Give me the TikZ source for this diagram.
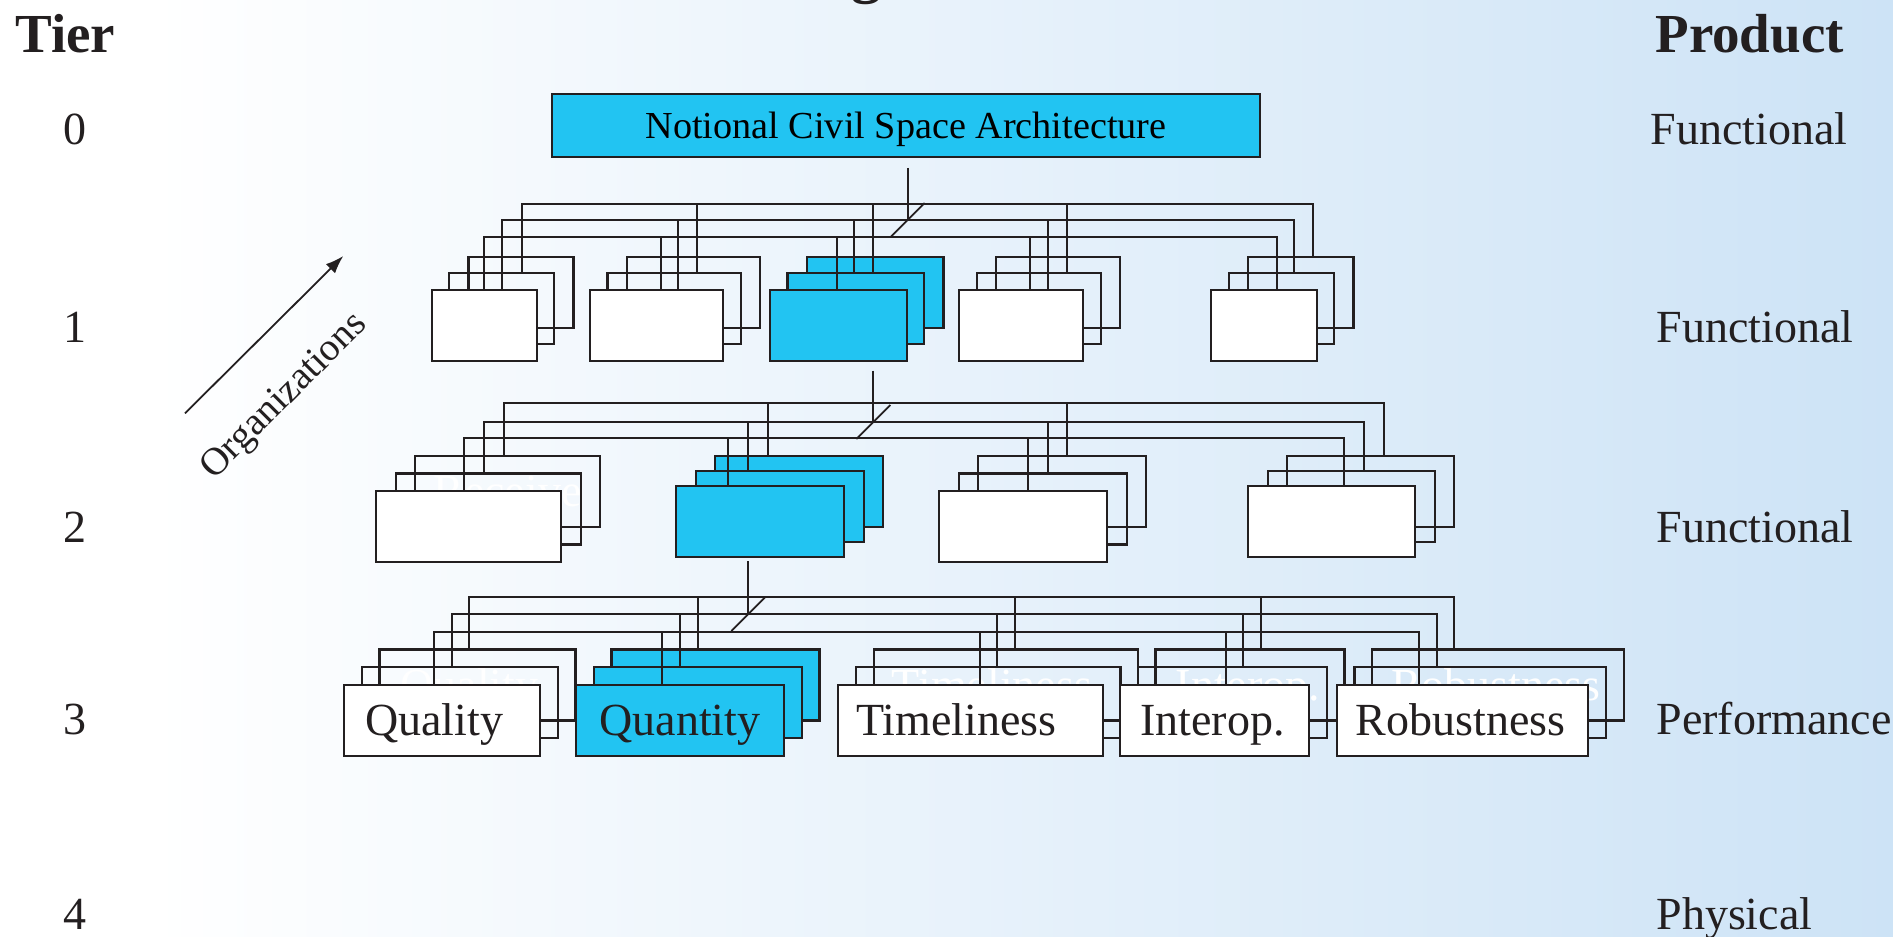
\documentclass[tikz,border=0pt]{standalone}
\usepackage{fontspec}
\setmainfont{Liberation Serif}
\usetikzlibrary{arrows.meta}

\definecolor{skyblue}{RGB}{34,196,242}
\definecolor{ink}{RGB}{35,31,32}
\definecolor{paleblue}{RGB}{205,227,246}

\begin{document}
\begin{tikzpicture}[x=0.5pt,y=-0.5pt]
\tikzset{layer/.style = {shape=rectangle,draw=ink,line width=1.15pt,inner sep=0pt,outer sep=0pt,anchor=north west,minimum height=35.5pt,text height=15.2pt,text depth=0pt,font=\fontsize{23}{27}\selectfont}}
\tikzset{wire/.style = {draw=ink,line width=0.9pt}}
\tikzset{label/.style = {text=ink,inner sep=0pt,font=\fontsize{23}{27}\selectfont,anchor=base}}
\tikzset{head/.style = {text=ink,inner sep=0pt,font=\fontsize{27.5}{32}\selectfont\bfseries,anchor=base west}}
\tikzset{edge/.style = {draw=ink,line width=0.9pt,-{Latex[length=9pt,width=6.5pt]}}}
% background
\fill[white] (0,0) rectangle (1893,936);
\shade[left color=white,right color=paleblue] (150,0) rectangle (1893,936);
\useasboundingbox (0,0) rectangle (1893,936);
% headings
\node[text=ink,inner sep=0pt,anchor=south,font=\fontsize{30}{34}\selectfont\bfseries] (title) at (866,5) {g};
\node[head] (tier) at (15,53) {Tier};
\node[head] (product) at (1655,53) {Product};
\foreach \t/\y in {0/145,1/342,2/542,3/734,4/929}
  \node[label] (n\t) at (75,\y) {\t};
\node[label,anchor=base west] (p0) at (1650,145) {Functional};
\node[label,anchor=base west] (p1) at (1656,342) {Functional};
\node[label,anchor=base west] (p2) at (1656,542) {Functional};
\node[label,anchor=base west] (p3) at (1656,734) {Performance};
\node[label,anchor=base west] (p4) at (1656,929) {Physical};
% tier 0
\node[layer,fill=skyblue,minimum width=354pt,minimum height=31.5pt,text height=12.6pt,font=\fontsize{19.1}{22}\selectfont] (arch) at (552,94) {Notional Civil Space Architecture};
% tier 1 stacks
\foreach \n/\x/\w/\bk/\fr in {a/431.7/105/none/white,b/590/133.3/none/white,c/770/136.7/skyblue/skyblue,d/959.3/124/none/white,e/1211.3/105.4/none/white}{
  \node[layer,fill=\bk,minimum width=\w*0.5pt] (\n1b) at (\x+36.7,257) {};
  \node[layer,fill=\bk,minimum width=\w*0.5pt] (\n1m) at (\x+17.5,273) {};
  \node[layer,fill=\fr,minimum width=\w*0.5pt] (\n1f) at (\x,290) {};
}
% tier 2 stacks
\foreach \n/\x/\y/\d/\w/\bk/\fr/\gh in {a/376/491/17.5/185/none/white/Receive,b/675.7/486/15/168/skyblue/skyblue/,c/939.3/491/17.5/168/none/white/,d/1247.7/486/15/167.3/none/white/}{
  \node[layer,fill=\bk,text=white,minimum width=\w*0.5pt] (\n2b) at (\x+39,\y-2*\d) {\gh};
  \node[layer,fill=\bk,minimum width=\w*0.5pt] (\n2m) at (\x+20,\y-\d) {};
  \node[layer,fill=\fr,minimum width=\w*0.5pt] (\n2f) at (\x,\y) {};
}
% tier 3 stacks
\foreach \n/\x/\w/\bk/\fr/\lab/\gh/\sh in {qual/344/196/none/white/Quality/Quality/8,quan/576/208/skyblue/skyblue/Quantity//0,time/838.3/264.4/none/white/Timeliness/Timeliness/14,inter/1120/189/none/white/Interop./Interop./2,robu/1336.7/251.6/none/white/Robustness/Robustness/2}{
  \node[layer,fill=\bk,text=white,minimum width=\w*0.5pt] (\n b) at (\x+35.4,649.5) {\gh\kern\sh pt};
  \node[layer,fill=\bk,minimum width=\w*0.5pt] (\n m) at (\x+17.7,667.2) {};
  \node[layer,fill=\fr,text=ink,minimum width=\w*0.5pt] (\n f) at (\x,685) {\lab\kern\sh pt};
}
% buses tier 1
\coordinate (t1T) at (1313.3,204);
\coordinate (t1M) at (1294,220);
\coordinate (t1L) at (1276.7,237);
\draw[wire] (521.7,0 |- a1m.north) |- (t1T) -- (t1T |- e1b.north);
\draw[wire] (501.7,0 |- a1f.north) |- (t1M) -- (t1M |- e1m.north);
\draw[wire] (484.3,0 |- a1f.north) |- (t1L) -- (t1L |- e1f.north);
\foreach \x/\bs/\n in {697.3/t1T/b1m,873.3/t1T/c1m,1067/t1T/d1m,678.3/t1M/b1f,854/t1M/c1m,1047.7/t1M/d1f,660.7/t1L/b1f,836.7/t1L/c1f,1030/t1L/d1f}
  \draw[wire] (\x,0 |- \bs) -- (\x,0 |- \n.north);
\coordinate (j1) at (907.7,220);
\draw[wire] ([yshift=-5.5pt]arch.south -| j1) -- (j1);
\draw[wire] (j1) ++(-17,17) -- ++(34,-34);
% buses tier 2
\coordinate (t2T) at (1384,403.3);
\coordinate (t2M) at (1364.3,422);
\coordinate (t2L) at (1344.3,438.3);
\draw[wire] (504.3,0 |- a2b.north) |- (t2T) -- (t2T |- d2b.north);
\draw[wire] (484.3,0 |- a2m.north) |- (t2M) -- (t2M |- d2m.north);
\draw[wire] (464.3,0 |- a2f.north) |- (t2L) -- (t2L |- d2f.north);
\foreach \x/\bs/\n in {768.3/t2T/b2b,1067.3/t2T/c2b,748.3/t2M/b2m,1047.7/t2M/c2m,728.3/t2L/b2f,1027.7/t2L/c2f}
  \draw[wire] (\x,0 |- \bs) -- (\x,0 |- \n.north);
\coordinate (j2) at (873.3,422);
\draw[wire] ([yshift=-4.8pt]c1f.south -| j2) -- (j2);
\draw[wire] (j2) ++(-17,17) -- ++(34,-34);
% buses tier 3
\coordinate (t3T) at (1454.3,596.7);
\coordinate (t3M) at (1436.7,614);
\coordinate (t3L) at (1419.3,631.7);
\draw[wire] (469,0 |- qualb.north) |- (t3T) -- (t3T |- robub.north);
\draw[wire] (451.7,0 |- qualm.north) |- (t3M) -- (t3M |- robum.north);
\draw[wire] (434.3,0 |- qualf.north) |- (t3L) -- (t3L |- robuf.north);
\foreach \x/\bs/\n in {697.7/t3T/quanb,1015/t3T/timeb,1261/t3T/interb,680/t3M/quanm,997.3/t3M/timem,1243.3/t3M/interm,662.3/t3L/quanf,980/t3L/timef,1226/t3L/interf}
  \draw[wire] (\x,0 |- \bs) -- (\x,0 |- \n.north);
\coordinate (j3) at (748.3,614);
\draw[wire] ([yshift=-2.2pt]b2f.south -| j3) -- (j3);
\draw[wire] (j3) ++(-17,17) -- ++(34,-34);
% organizations
\coordinate (o1) at (185,413.3);
\coordinate (o2) at (343.3,256);
\draw[edge] (o1) -- (o2);
\node[text=ink,inner sep=0pt,font=\fontsize{19.5}{22}\selectfont,rotate=45] (org) at (285,397) {Organizations};
\end{tikzpicture}
\end{document}
